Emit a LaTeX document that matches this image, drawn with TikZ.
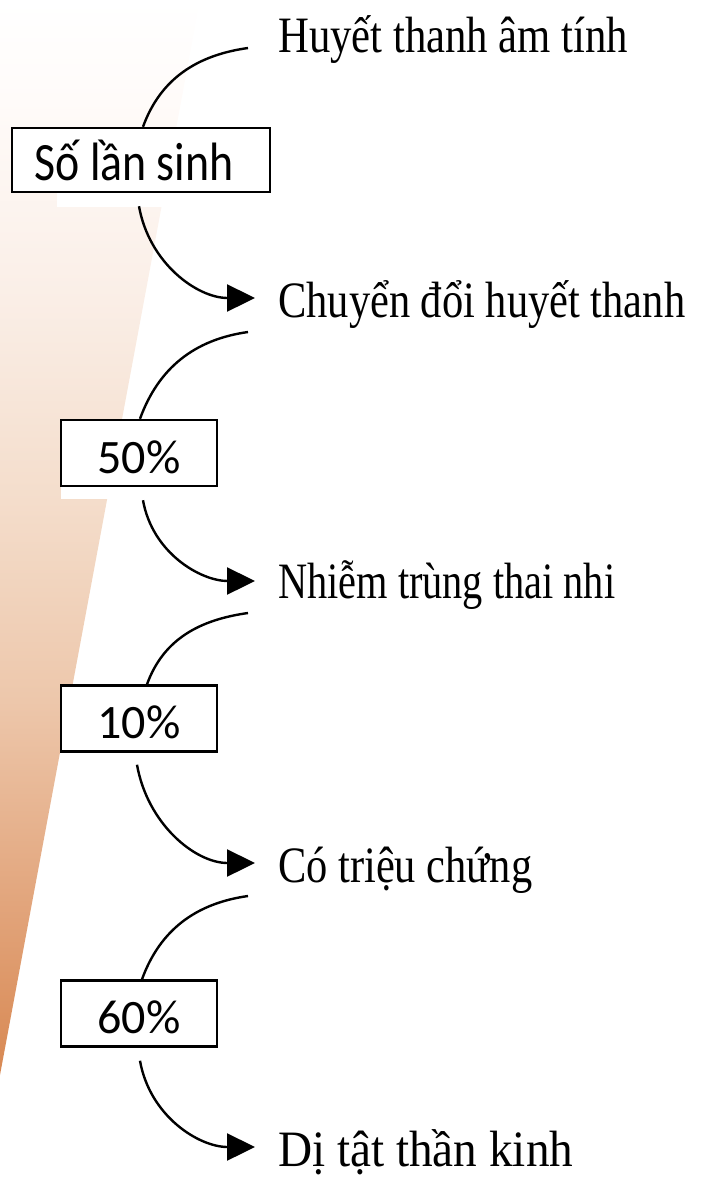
\documentclass[tikz,border=0pt]{standalone}
\usepackage{fontspec}
\usepackage{graphicx}
\setmainfont{Liberation Serif}
\newfontfamily\boxfont{Carlito}
\usetikzlibrary{arrows.meta}
\definecolor{wA}{RGB}{216,136,82}
\definecolor{wB}{RGB}{226,165,124}
\definecolor{wC}{RGB}{237,199,171}
\definecolor{wD}{RGB}{244,221,203}
\definecolor{wE}{RGB}{250,238,230}
\definecolor{wF}{RGB}{255,251,249}
\pgfdeclareverticalshading{wedgeshade}{100bp}{color(0bp)=(wA); color(25bp)=(wA); color(33bp)=(wB); color(42.4bp)=(wC); color(51.7bp)=(wD); color(61bp)=(wE); color(70.3bp)=(wF); color(75bp)=(white); color(100bp)=(white)}
\newcommand\mylab[2]{\resizebox{#1}{\height}{\fontsize{51}{51}\selectfont #2}}
\tikzset{
  pbox/.style={draw, line width=2.4pt, fill=white, inner sep=0pt, font=\boxfont},
  pct/.style={minimum width=156pt, minimum height=66pt, text height=53pt, text depth=13pt, font=\boxfont\fontsize{48}{48}\selectfont},
  conn/.style={line width=2.4pt},
  arr/.style={conn, -{Triangle[length=28pt,width=27pt]}},
  lab/.style={inner sep=0pt, anchor=base west},
}
\begin{document}
\begin{tikzpicture}[x=1pt,y=1pt]
\useasboundingbox (0,0) rectangle (705,-1178);
\shade[shading=wedgeshade] (0,0) -- (200,0) -- (0,-1075) -- cycle;
\fill[white] (57,-192) rectangle (270,-207);
\fill[white] (61,-486) rectangle (217,-499);
% labels
\node[lab] (l1) at (278,-52) {\mylab{350pt}{Huyết thanh âm tính}};
\node[lab] (l2) at (278,-317) {\mylab{407pt}{Chuyển đổi huyết thanh}};
\node[lab] (l3) at (278,-598) {\mylab{337pt}{Nhiễm trùng thai nhi}};
\node[lab] (l4) at (278,-882) {\mylab{254pt}{Có triệu chứng}};
\node[lab] (l5) at (278,-1166) {\mylab{295pt}{Dị tật thần kinh}};
% boxes
\node[pbox, minimum width=258pt, minimum height=64pt, text height=52pt, text depth=12pt] (b0) at (141,-160)
  {\resizebox{199pt}{\height}{\fontsize{54}{54}\selectfont Số lần sinh}\hspace*{14pt}};
\node[pbox,pct] (b1) at (139,-453) {50\%};
\node[pbox,pct] (b2) at (139,-718.5) {10\%};
\node[pbox,pct] (b3) at (139,-1013.5) {60\%};
% upper connectors
\draw[conn] ([xshift=-30pt,yshift=4pt]l1.base west) to[out=188,in=70] ([xshift=2pt]b0.north);
\draw[conn] ([xshift=-30pt,yshift=-15pt]l2.base west) to[out=188,in=70] ([xshift=1pt]b1.north);
\draw[conn] ([xshift=-30pt,yshift=-15pt]l3.base west) to[out=188,in=70] ([xshift=8pt]b2.north);
\draw[conn] ([xshift=-30pt,yshift=-14pt]l4.base west) to[out=188,in=70] ([xshift=3pt]b3.north);
% lower connectors
\draw[arr] ([xshift=-2pt,yshift=-13pt]b0.south) to[out=-80,in=180] ([xshift=-23pt,yshift=19pt]l2.base west);
\draw[arr] ([xshift=4pt,yshift=-13pt]b1.south) to[out=-80,in=180] ([xshift=-23pt,yshift=17pt]l3.base west);
\draw[arr] ([xshift=-2pt,yshift=-12pt]b2.south) to[out=-80,in=180] ([xshift=-23pt,yshift=19pt]l4.base west);
\draw[arr] ([xshift=1pt,yshift=-13pt]b3.south) to[out=-80,in=180] ([xshift=-23pt,yshift=19pt]l5.base west);
\end{tikzpicture}
\end{document}
